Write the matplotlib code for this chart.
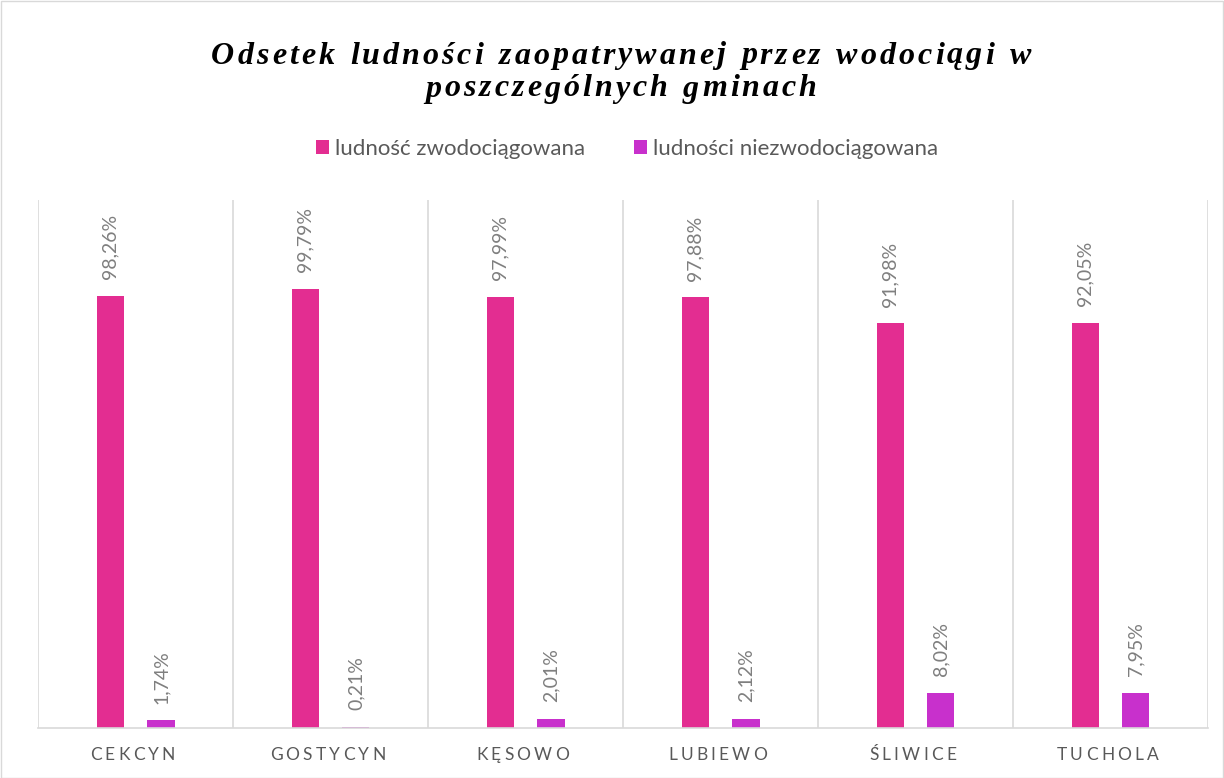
import numpy as np
import matplotlib
matplotlib.use("Agg")
import matplotlib.pyplot as plt
from matplotlib.patches import Rectangle

# dane
gminy = ["CEKCYN", "GOSTYCYN", "KĘSOWO", "LUBIEWO", "ŚLIWICE", "TUCHOLA"]
zwodociagowana = [98.26, 99.79, 97.99, 97.88, 91.98, 92.05]
niezwodociagowana = [1.74, 0.21, 2.01, 2.12, 8.02, 7.95]

kolor1 = "#E32D91"
kolor2 = "#C830CC"
szary = "#7F7F7F"

W, H = 1224, 778
fig = plt.figure(figsize=(W / 100, H / 100), dpi=100)
ax = fig.add_axes([38 / W, 50 / H, 1170 / W, 528 / H])

x = np.arange(len(gminy))
bw = 0.14
off = 0.13
b1 = ax.bar(x - off, zwodociagowana, bw, color=kolor1, label="ludność zwodociągowana")
b2 = ax.bar(x + off, niezwodociagowana, bw, color=kolor2, label="ludności niezwodociągowana")

for bars, vals in ((b1, zwodociagowana), (b2, niezwodociagowana)):
    for r, v in zip(bars, vals):
        ax.annotate(f"{v:.2f}%".replace(".", ","), (r.get_x() + r.get_width() / 2, v),
                    xytext=(0, 12), textcoords="offset points", rotation=90,
                    ha="center", va="bottom", color=szary, fontsize=14, family="Lato")

ax.set_xlim(-0.5, len(gminy) - 0.5)
ax.set_ylim(0, 120)
ax.set_yticks([])
ax.set_xticks([])
for s in ["top", "right", "left"]:
    ax.spines[s].set_visible(False)
ax.spines["bottom"].set_color("#D9D9D9")
ax.spines["bottom"].set_linewidth(1.2)
for b in np.arange(-0.5, len(gminy), 1.0):
    ax.axvline(b, color="#D9D9D9", lw=1.2, zorder=0)

renderer = fig.canvas.get_renderer()


def spaced_text(s, cx, cy, track, **kw):
    # rysuje tekst znak po znaku z rozstrzeleniem liter (px)
    widths = []
    for ch in s:
        t = fig.text(0, 0, ch if ch != " " else "n", **kw)
        bb = t.get_window_extent(renderer)
        w = bb.width if ch != " " else bb.width * 0.55
        widths.append(w)
        t.remove()
    total = sum(widths) + track * (len(s) - 1)
    px = cx - total / 2
    for ch, w in zip(s, widths):
        if ch != " ":
            fig.text(px / W, 1 - cy / H, ch, ha="left", va="center", **kw)
        px += w + track


tkw = dict(fontsize=23, family="Liberation Serif", style="italic", weight="bold", color="black")
spaced_text("Odsetek ludności zaopatrywanej przez wodociągi w", 621, 56, 3.0, **tkw)
spaced_text("poszczególnych gminach", 621, 89, 3.0, **tkw)

xkw = dict(fontsize=12.5, family="Lato", color="#595959")
for i, g in enumerate(gminy):
    cx = 38 + 195 * (i + 0.5) - 3
    spaced_text(g, cx, 755, 3.2, **xkw)

fig.legend(loc="center", bbox_to_anchor=(627 / W, 1 - 149 / H), ncol=2, frameon=False,
           prop={"family": "Lato", "size": 16}, labelcolor="#595959",
           handlelength=0.6, handleheight=0.6, handletextpad=0.25, columnspacing=2.2)

fig.add_artist(Rectangle((0.5 / W, 0.5 / H), 1 - 1.5 / W, 1 - 1.5 / H, transform=fig.transFigure,
                         fill=False, edgecolor="#D9D9D9", lw=1))

fig.savefig("out.png", dpi=100)
